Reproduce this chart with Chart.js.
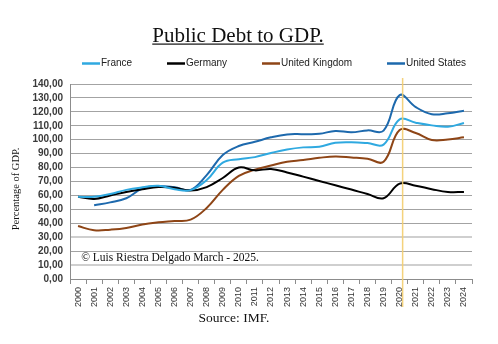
<!DOCTYPE html>
<html lang="en">
<head>
  <meta charset="UTF-8">
  <title>Public Debt to GDP.</title>
  <script src="https://cdn.jsdelivr.net/npm/chart.js"></script>
  <style>
    html, body { margin: 0; padding: 0; background: #fff; }
    #wrap { width: 498px; height: 344px; position: relative; }
  </style>
</head>
<body>
  <div id="wrap"><canvas id="debtChart"></canvas></div>
  <script>
    // data (% of GDP)
    const years = ['2000', '2001', '2002', '2003', '2004', '2005', '2006', '2007', '2008', '2009', '2010', '2011', '2012',
      '2013', '2014', '2015', '2016', '2017', '2018', '2019', '2020', '2021', '2022', '2023', '2024'];
    const france = [59, 59, 61, 64, 65.8, 67, 64.5, 63.8, 71, 83.5, 86, 87.5, 90.5, 93, 94.5, 95, 97.8, 98.2, 97.6, 96.5,
      114.6, 112.2, 110.3, 109.3, 112];
    const germany = [59, 57.5, 60, 62.5, 64.5, 66, 65.5, 63.5, 66, 72.5, 80, 78, 79, 76.5, 73.5, 70.4, 67.3, 64.2, 61, 58,
      68.5, 67, 64.5, 62.5, 62.5];
    const unitedKingdom = [38, 35, 35.4, 36.6, 39.2, 40.7, 41.6, 42.6, 51, 64, 74, 78.5, 81.5, 84.2, 85.4, 87, 88, 87.3, 86.4, 84.2,
      107, 104.8, 99.8, 100.2, 101.7];
    const unitedStates = [null, 53, 55, 58, 65, 66.8, 65.8, 64, 74.6, 89, 95.5, 98.5, 101.7, 103.8, 104, 104.2, 106.3, 105.3, 106.7, 106.5,
      132, 123.4, 118.3, 119, 120.8];
    const seriesNames = ['France', 'Germany', 'United Kingdom', 'United States'];
    const seriesColors = ['#2fa9e0', '#000000', '#8e4516', '#1d69ad'];
    const markerYear = '2020';

    const serif = '"Liberation Serif", "DejaVu Serif", serif';
    const sans = '"Liberation Sans", Arial, sans-serif';

    // titles, legend, notes and the 2020 marker
    const extras = {
      id: 'extras',
      afterDatasetsDraw(chart) {
        const ctx = chart.ctx;
        const xs = chart.scales.x;

        // yellow marker line
        const mx = xs.getPixelForValue(years.indexOf(markerYear)) + 3;
        ctx.save();
        ctx.strokeStyle = 'rgba(243, 205, 110, 0.9)';
        ctx.lineWidth = 1.5;
        ctx.beginPath();
        ctx.moveTo(mx, 78);
        ctx.lineTo(mx, 307);
        ctx.stroke();
        ctx.restore();
      },
      afterDraw(chart) {
        const ctx = chart.ctx;
        ctx.save();
        ctx.fillStyle = '#111';

        // title, underlined
        ctx.font = '21px ' + serif;
        ctx.textAlign = 'center';
        ctx.textBaseline = 'alphabetic';
        const title = 'Public Debt to GDP.';
        ctx.fillText(title, 238, 42);
        const tw = ctx.measureText(title).width;
        ctx.fillRect(238 - tw / 2, 43.5, tw, 1.2);

        // legend
        const legendX = [82, 167, 262, 387];
        ctx.font = '10px ' + sans;
        ctx.textAlign = 'left';
        ctx.textBaseline = 'middle';
        chart.data.datasets.forEach((ds, i) => {
          ctx.strokeStyle = ds.borderColor;
          ctx.lineWidth = 2.5;
          ctx.beginPath();
          ctx.moveTo(legendX[i], 63.5);
          ctx.lineTo(legendX[i] + 18, 63.5);
          ctx.stroke();
          ctx.fillStyle = '#222';
          ctx.fillText(ds.label, legendX[i] + 19, 63.5);
        });

        // y axis title
        ctx.fillStyle = '#111';
        ctx.font = '10.5px ' + serif;
        ctx.textAlign = 'center';
        ctx.translate(16, 189);
        ctx.rotate(-Math.PI / 2);
        ctx.fillText('Percentage of GDP.', 0, 0);
        ctx.setTransform(1, 0, 0, 1, 0, 0);

        // copyright note
        ctx.font = '11.5px ' + serif;
        ctx.textAlign = 'center';
        ctx.fillText('\u00a9 Luis Riestra Delgado March - 2025.', 170, 258);

        // source
        ctx.font = '13.5px ' + serif;
        ctx.fillText('Source: IMF.', 234, 318);
        ctx.restore();
      }
    };

    const datasets = [france, germany, unitedKingdom, unitedStates].map((values, i) => ({
      label: seriesNames[i],
      data: values,
      borderColor: seriesColors[i],
      backgroundColor: seriesColors[i],
      borderWidth: 2,
      pointRadius: 0,
      tension: 0.4,
      fill: false,
      spanGaps: false
    }));

    new Chart(document.getElementById('debtChart'), {
      type: 'line',
      data: { labels: years, datasets: datasets },
      plugins: [extras],
      options: {
        responsive: true,
        maintainAspectRatio: false,
        animation: false,
        layout: { padding: { top: 84, right: 26, bottom: 0, left: 0 } },
        plugins: {
          legend: { display: false },
          title: { display: false },
          tooltip: { enabled: false }
        },
        scales: {
          x: {
            offset: true,
            afterFit: (s) => { s.height = 65; },
            grid: { offset: true, drawOnChartArea: false, drawTicks: true, tickLength: 5, color: '#8c8c8c' },
            border: { display: true, color: '#8c8c8c' },
            ticks: {
              autoSkip: false,
              minRotation: 90,
              maxRotation: 90,
              padding: 3,
              color: '#333',
              font: { family: sans, size: 9 }
            }
          },
          y: {
            min: 0,
            max: 140,
            afterFit: (s) => { s.width = 70; },
            grid: {
              drawTicks: false,
              color: (c) => (c.tick && (c.tick.value === 10 || c.tick.value === 30)) ? '#cfcfcf' : '#a3a3a3',
              lineWidth: (c) => (c.tick && (c.tick.value === 10 || c.tick.value === 30)) ? 2 : 1
            },
            border: { display: true, color: '#8c8c8c' },
            ticks: {
              stepSize: 10,
              autoSkip: false,
              padding: 7,
              color: '#3a3a3a',
              font: { family: sans, size: 10, weight: 'bold' },
              callback: (v) => v.toFixed(2).replace('.', ',')
            }
          }
        }
      }
    });
  </script>
</body>
</html>
